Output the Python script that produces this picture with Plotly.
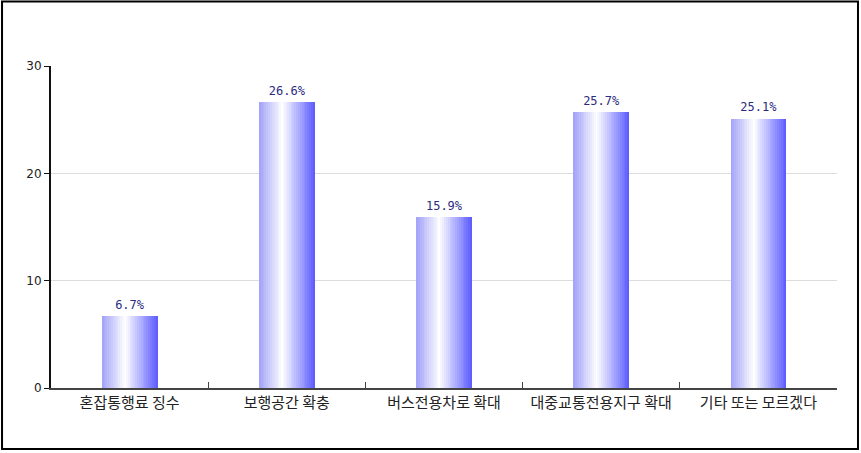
import plotly.graph_objects as go

categories = ["혼잡통행료 징수", "보행공간 확충", "버스전용차로 확대", "대중교통전용지구 확대", "기타 또는 모르겠다"]
values = [6.7, 26.6, 15.9, 25.7, 25.1]
labels = ["6.7%", "26.6%", "15.9%", "25.7%", "25.1%"]
y_ticks = [0, 10, 20, 30]

# bar gradient (left light blue -> white -> strong blue), built from vertical strips
BAR_W = 0.355
N_STRIPS = 30
stops = [(0.0, (160, 160, 248)), (0.42, (255, 255, 255)), (1.0, (90, 90, 255))]


def grad_color(t):
    for (t0, c0), (t1, c1) in zip(stops[:-1], stops[1:]):
        if t0 <= t <= t1:
            f = (t - t0) / (t1 - t0)
            r, g, b = [round(a + (bb - a) * f) for a, bb in zip(c0, c1)]
            return f"rgb({r},{g},{b})"
    return "rgb(90,90,255)"


fig = go.Figure()
sw = BAR_W / N_STRIPS
for i in range(N_STRIPS):
    t = (i + 0.5) / N_STRIPS
    fig.add_trace(go.Bar(
        x=categories, y=values,
        width=sw * 1.08, offset=-BAR_W / 2 + i * sw,
        marker=dict(color=grad_color(t), line=dict(width=0)),
        showlegend=False, hoverinfo="skip",
    ))

# value labels, lifted a little above the bars by an invisible marker
fig.add_trace(go.Scatter(
    x=categories, y=values, mode="markers+text", text=labels,
    textposition="top center",
    marker=dict(size=5, opacity=0),
    textfont=dict(family="DejaVu Sans Mono", size=12, color="#2b2b80"),
    showlegend=False, hoverinfo="skip",
))

fig.update_layout(
    width=861, height=453,
    margin=dict(l=51, r=24, t=66, b=65, autoexpand=False),
    plot_bgcolor="white", paper_bgcolor="white",
    barmode="overlay", bargap=0,
    font=dict(family="Noto Sans CJK KR", size=13, color="#222222"),
    shapes=[dict(type="rect", xref="paper", yref="paper",
                 x0=-0.0623, x1=1.0267, y0=-0.1894, y1=1.2003,
                 line=dict(color="black", width=2))],
)
fig.update_xaxes(
    type="category", showgrid=False, automargin=False, tickangle=0,
    showline=True, linecolor="#444444", linewidth=2,
    ticks="inside", tickson="boundaries", ticklen=6, tickcolor="#444444", tickwidth=1,
    tickfont=dict(family="Noto Sans CJK KR", size=15, color="#222222"),
)
fig.update_yaxes(
    range=[0, 30], tickvals=y_ticks, automargin=False,
    showgrid=True, gridcolor="#dddddd", gridwidth=1,
    showline=True, linecolor="#111111", linewidth=2,
    ticks="outside", ticklen=5, tickcolor="#111111",
    tickfont=dict(family="DejaVu Sans", size=12, color="#222222"),
    zeroline=False,
)

fig.write_html("out.html", config={"displayModeBar": False},
               post_script="document.body.style.margin='0';")
